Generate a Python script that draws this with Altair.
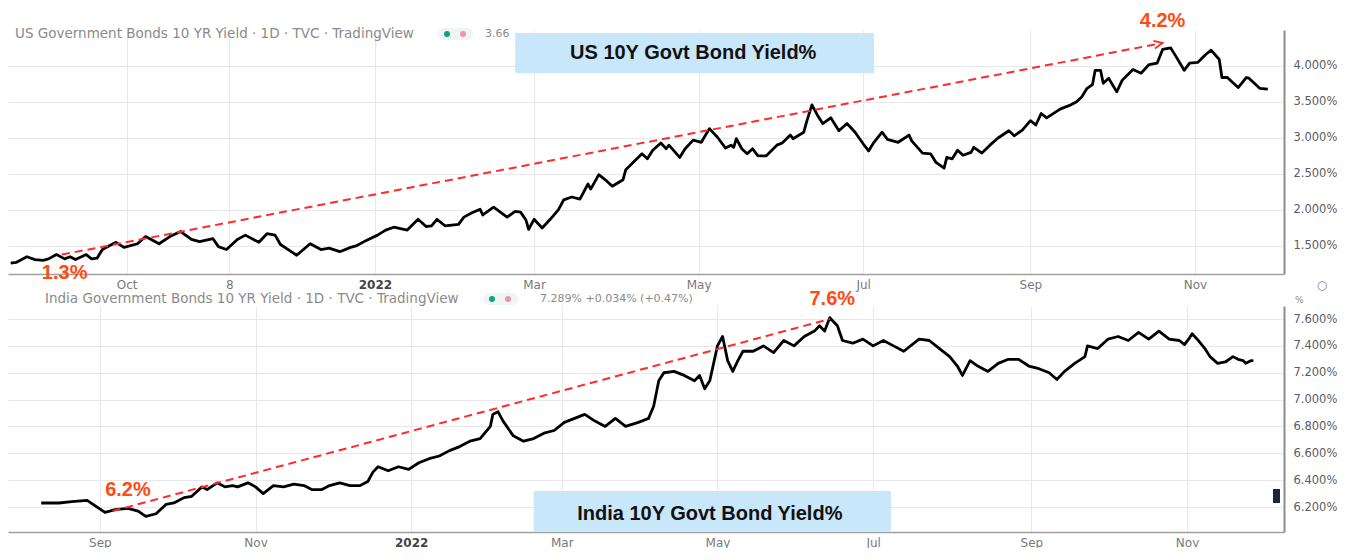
import altair as alt
import pandas as pd

# ---------------- data ----------------
us_dates = [
    "2021-08-19", "2021-08-21", "2021-08-25", "2021-08-28", "2021-08-31", "2021-09-02", "2021-09-05",
    "2021-09-08", "2021-09-10", "2021-09-12", "2021-09-16", "2021-09-18", "2021-09-20", "2021-09-22",
    "2021-09-27", "2021-09-30", "2021-10-05", "2021-10-08", "2021-10-13", "2021-10-17", "2021-10-21",
    "2021-10-25", "2021-10-28", "2021-11-02", "2021-11-04", "2021-11-07", "2021-11-11", "2021-11-14",
    "2021-11-19", "2021-11-22", "2021-11-25", "2021-11-27", "2021-12-01", "2021-12-03", "2021-12-08",
    "2021-12-12", "2021-12-15", "2021-12-19", "2021-12-23", "2021-12-25", "2021-12-28", "2021-12-29",
    "2022-01-02", "2022-01-05", "2022-01-08", "2022-01-13", "2022-01-17", "2022-01-20", "2022-01-22",
    "2022-01-24", "2022-01-27", "2022-02-01", "2022-02-03", "2022-02-06", "2022-02-09", "2022-02-10",
    "2022-02-14", "2022-02-19", "2022-02-22", "2022-02-24", "2022-02-26", "2022-02-27", "2022-03-01",
    "2022-03-04", "2022-03-07", "2022-03-10", "2022-03-12", "2022-03-15", "2022-03-18", "2022-03-21",
    "2022-03-22", "2022-03-25", "2022-03-28", "2022-03-30", "2022-04-03", "2022-04-04", "2022-04-10",
    "2022-04-12", "2022-04-14", "2022-04-17", "2022-04-19", "2022-04-20", "2022-04-24", "2022-04-26",
    "2022-04-29", "2022-05-02", "2022-05-05", "2022-05-08", "2022-05-11", "2022-05-13", "2022-05-14",
    "2022-05-15", "2022-05-17", "2022-05-19", "2022-05-21", "2022-05-23", "2022-05-26", "2022-05-30",
    "2022-06-01", "2022-06-04", "2022-06-05", "2022-06-09", "2022-06-10", "2022-06-12", "2022-06-14",
    "2022-06-16", "2022-06-19", "2022-06-22", "2022-06-25", "2022-06-28", "2022-07-01", "2022-07-03",
    "2022-07-05", "2022-07-08", "2022-07-10", "2022-07-14", "2022-07-18", "2022-07-19", "2022-07-23",
    "2022-07-26", "2022-07-28", "2022-07-31", "2022-08-01", "2022-08-03", "2022-08-05", "2022-08-07",
    "2022-08-10", "2022-08-11", "2022-08-14", "2022-08-17", "2022-08-20", "2022-08-24", "2022-08-26",
    "2022-08-29", "2022-09-01", "2022-09-03", "2022-09-05", "2022-09-07", "2022-09-12", "2022-09-16",
    "2022-09-18", "2022-09-20", "2022-09-22", "2022-09-24", "2022-09-25", "2022-09-27", "2022-09-28",
    "2022-09-30", "2022-10-03", "2022-10-05", "2022-10-09", "2022-10-12", "2022-10-15", "2022-10-18",
    "2022-10-20", "2022-10-23", "2022-10-25", "2022-10-28", "2022-10-30", "2022-11-02", "2022-11-05",
    "2022-11-07", "2022-11-10", "2022-11-11", "2022-11-13", "2022-11-17", "2022-11-20", "2022-11-21",
    "2022-11-25", "2022-11-28",
]
us_yield = [
    1.26, 1.27, 1.35, 1.31, 1.30, 1.32, 1.38,
    1.32, 1.35, 1.31, 1.38, 1.32, 1.33, 1.45,
    1.55, 1.48, 1.53, 1.63, 1.53, 1.63, 1.70,
    1.59, 1.56, 1.60, 1.49, 1.45, 1.59, 1.65,
    1.55, 1.67, 1.65, 1.52, 1.42, 1.37, 1.53,
    1.45, 1.47, 1.42, 1.48, 1.50, 1.56, 1.58,
    1.65, 1.72, 1.76, 1.72, 1.87, 1.77, 1.78,
    1.87, 1.78, 1.80, 1.90, 1.96, 2.01, 1.93,
    2.04, 1.90, 1.98, 1.97, 1.86, 1.73, 1.87,
    1.75, 1.87, 2.00, 2.14, 2.18, 2.15, 2.36,
    2.29, 2.49, 2.40, 2.33, 2.42, 2.56, 2.78,
    2.71, 2.83, 2.93, 2.85, 2.90, 2.73, 2.85,
    2.97, 2.94, 3.13, 3.01, 2.86, 2.90, 2.87,
    2.99, 2.85, 2.78, 2.85, 2.75, 2.75, 2.90,
    2.93, 3.04, 2.99, 3.08, 3.22, 3.46, 3.32,
    3.20, 3.28, 3.10, 3.20, 3.08, 2.92, 2.82,
    2.94, 3.08, 2.98, 2.94, 3.04, 2.96, 2.79,
    2.78, 2.66, 2.58, 2.73, 2.71, 2.83, 2.76,
    2.80, 2.87, 2.79, 2.90, 3.00, 3.10, 3.03,
    3.11, 3.24, 3.18, 3.34, 3.28, 3.40, 3.46,
    3.50, 3.57, 3.69, 3.74, 3.94, 3.94, 3.76,
    3.83, 3.64, 3.80, 3.95, 3.90, 4.02, 4.04,
    4.23, 4.25, 4.13, 3.94, 4.04, 4.05, 4.16,
    4.22, 4.09, 3.84, 3.84, 3.70, 3.84, 3.83,
    3.69, 3.68,
]

in_dates = [
    "2021-08-09", "2021-08-16", "2021-08-21", "2021-08-27", "2021-09-03", "2021-09-07", "2021-09-12",
    "2021-09-16", "2021-09-19", "2021-09-23", "2021-09-27", "2021-09-30", "2021-10-04", "2021-10-07",
    "2021-10-11", "2021-10-13", "2021-10-17", "2021-10-20", "2021-10-23", "2021-10-25", "2021-10-29",
    "2021-11-01", "2021-11-04", "2021-11-08", "2021-11-12", "2021-11-16", "2021-11-20", "2021-11-23",
    "2021-11-27", "2021-11-30", "2021-12-04", "2021-12-08", "2021-12-12", "2021-12-15", "2021-12-17",
    "2021-12-19", "2021-12-23", "2021-12-27", "2021-12-31", "2022-01-04", "2022-01-08", "2022-01-12",
    "2022-01-16", "2022-01-20", "2022-01-24", "2022-01-28", "2022-02-01", "2022-02-02", "2022-02-04",
    "2022-02-06", "2022-02-10", "2022-02-14", "2022-02-18", "2022-02-22", "2022-02-26", "2022-03-02",
    "2022-03-06", "2022-03-10", "2022-03-14", "2022-03-18", "2022-03-22", "2022-03-26", "2022-03-31",
    "2022-04-04", "2022-04-06", "2022-04-08", "2022-04-10", "2022-04-14", "2022-04-18", "2022-04-22",
    "2022-04-24", "2022-04-26", "2022-04-28", "2022-05-01", "2022-05-03", "2022-05-05", "2022-05-07",
    "2022-05-09", "2022-05-11", "2022-05-15", "2022-05-19", "2022-05-23", "2022-05-27", "2022-05-31",
    "2022-06-04", "2022-06-08", "2022-06-10", "2022-06-12", "2022-06-14", "2022-06-17", "2022-06-19",
    "2022-06-23", "2022-06-27", "2022-07-01", "2022-07-05", "2022-07-09", "2022-07-13", "2022-07-19",
    "2022-07-23", "2022-07-27", "2022-07-31", "2022-08-03", "2022-08-05", "2022-08-08", "2022-08-11",
    "2022-08-15", "2022-08-19", "2022-08-23", "2022-08-27", "2022-08-31", "2022-09-04", "2022-09-08",
    "2022-09-11", "2022-09-14", "2022-09-18", "2022-09-22", "2022-09-23", "2022-09-27", "2022-10-01",
    "2022-10-05", "2022-10-09", "2022-10-13", "2022-10-17", "2022-10-21", "2022-10-25", "2022-10-29",
    "2022-10-31", "2022-11-02", "2022-11-03", "2022-11-05", "2022-11-08", "2022-11-10", "2022-11-13",
    "2022-11-16", "2022-11-19", "2022-11-21", "2022-11-23", "2022-11-24", "2022-11-26", "2022-11-27",
]
in_yield = [
    6.23, 6.23, 6.24, 6.25, 6.16, 6.18, 6.19,
    6.17, 6.13, 6.15, 6.22, 6.23, 6.27, 6.28,
    6.35, 6.33, 6.38, 6.35, 6.36, 6.35, 6.38,
    6.35, 6.30, 6.36, 6.35, 6.37, 6.36, 6.33,
    6.33, 6.36, 6.38, 6.36, 6.36, 6.39, 6.46,
    6.50, 6.47, 6.50, 6.48, 6.53, 6.56, 6.58,
    6.62, 6.65, 6.69, 6.71, 6.80, 6.89, 6.91,
    6.84, 6.73, 6.69, 6.71, 6.75, 6.77, 6.83,
    6.86, 6.89, 6.84, 6.80, 6.86, 6.80, 6.83,
    6.86, 6.95, 7.14, 7.20, 7.21, 7.18, 7.14,
    7.18, 7.08, 7.14, 7.40, 7.47, 7.29, 7.21,
    7.29, 7.36, 7.36, 7.40, 7.35, 7.44, 7.40,
    7.47, 7.51, 7.55, 7.51, 7.61, 7.55, 7.44,
    7.42, 7.45, 7.40, 7.44, 7.40, 7.36, 7.45,
    7.44, 7.38, 7.32, 7.25, 7.18, 7.29, 7.25,
    7.21, 7.27, 7.30, 7.30, 7.25, 7.23, 7.20,
    7.15, 7.21, 7.27, 7.32, 7.40, 7.38, 7.45,
    7.47, 7.44, 7.50, 7.45, 7.51, 7.45, 7.44,
    7.41, 7.46, 7.49, 7.45, 7.38, 7.32, 7.27,
    7.28, 7.32, 7.30, 7.29, 7.27, 7.29, 7.29,
]

# trend (dashed) lines
us_trend_dates = ["2021-09-07", "2022-10-20"]
us_trend_vals = [1.38, 4.32]
in_trend_dates = ["2021-09-06", "2022-06-14"]
in_trend_vals = [6.17, 7.60]

# annotation labels
us_note_dates = ["2021-09-08", "2022-10-20"]
us_note_vals = [1.125, 4.625]
us_note_text = ["1.3%", "4.2%"]
in_note_dates = ["2021-09-12", "2022-06-15"]
in_note_vals = [6.327, 7.75]
in_note_text = ["6.2%", "7.6%"]

# title boxes
us_title = "US 10Y Govt Bond Yield%"
us_box = {"d1": "2022-02-22", "d2": "2022-07-05", "v1": 3.90, "v2": 4.46, "dc": "2022-04-29", "vc": 4.18}
in_title = "India 10Y Govt Bond Yield%"
in_box = {"d1": "2022-02-18", "d2": "2022-07-08", "v1": 6.02, "v2": 6.32, "dc": "2022-04-28", "vc": 6.15}

# axes
us_xdomain = ["2021-08-18", "2022-12-04"]
in_xdomain = ["2021-07-27", "2022-12-09"]
us_xticks = ["2021-10-01", "2021-11-08", "2022-01-01", "2022-03-01", "2022-05-01", "2022-07-01", "2022-09-01", "2022-11-01"]
in_xticks = ["2021-09-01", "2021-11-01", "2022-01-01", "2022-03-01", "2022-05-01", "2022-07-01", "2022-09-01", "2022-11-01"]
us_ydomain = [1.11, 4.50]
in_ydomain = [6.014, 7.697]
us_yticks = [1.5, 2.0, 2.5, 3.0, 3.5, 4.0]
in_yticks = [6.2, 6.4, 6.6, 6.8, 7.0, 7.2, 7.4, 7.6]

us_header = "US Government Bonds 10 YR Yield \u00b7 1D \u00b7 TVC \u00b7 TradingView"
us_header_val = "3.66"
in_header = "India Government Bonds 10 YR Yield \u00b7 1D \u00b7 TVC \u00b7 TradingView"
in_header_val = "7.289%  +0.034%  (+0.47%)"

# ---------------- style ----------------
W = 1276
H_TOP = 244
H_BOT = 226
GRID = "#e6e8ee"
RED = "#ff2b2b"
ORANGE = "#ff4a12"
BOLDF = "Liberation Sans, Arial, sans-serif"
SANS = "DejaVu Sans, sans-serif"


def dt(s):
    y, m, d = (int(p) for p in s.split("-"))
    return alt.DateTime(year=y, month=m, date=d, utc=True)


X_LABEL_EXPR = (
    "utcmonth(datum.value) == 0 ? utcFormat(datum.value, '%Y') : "
    "(utcdate(datum.value) != 1 ? utcFormat(datum.value, '%-d') : utcFormat(datum.value, '%b'))"
)


def panel(dates, vals, tdates, tvals, ndates, nvals, ntext, title, box,
          xdomain, xticks, ydomain, yticks, height, header, header_val,
          header_x, header_y, val_x, dot_x, arrow, extra):
    line_df = pd.DataFrame({"date": dates, "value": vals})
    trend_df = pd.DataFrame({"date": tdates, "value": tvals})
    note_df = pd.DataFrame({"date": ndates, "value": nvals, "label": ntext})
    box_df = pd.DataFrame({"date": [box["d1"]], "date2": [box["d2"]],
                           "value": [box["v1"]], "value2": [box["v2"]]})
    title_df = pd.DataFrame({"date": [box["dc"]], "value": [box["vc"]], "label": [title]})

    x_enc = alt.X(
        "date:T",
        scale=alt.Scale(type="utc", domain=[dt(xdomain[0]), dt(xdomain[1])], nice=False),
        axis=alt.Axis(
            values=[dt(s) for s in xticks], tickCount=40, labelExpr=X_LABEL_EXPR, title=None,
            grid=True, gridColor=GRID, gridWidth=1, domainColor="#a0a0a0", domainWidth=1.5,
            ticks=False, labelPadding=5, labelFont=SANS, labelFontSize=12,
            labelColor={"condition": {"test": "utcmonth(datum.value) == 0", "value": "#444444"}, "value": "#7a7a7a"},
            labelFontWeight={"condition": {"test": "utcmonth(datum.value) == 0", "value": "bold"}, "value": "normal"},
            labelFlush=False, labelOverlap=False,
        ),
    )
    y_enc = alt.Y(
        "value:Q",
        scale=alt.Scale(domain=ydomain, nice=False, zero=False),
        axis=alt.Axis(
            orient="right", values=yticks, tickCount=20,
            labelExpr="format(datum.value, '.3f') + '%'",
            title=None, grid=True, gridColor=GRID, gridWidth=1, domainColor="#8c8c8c",
            domainWidth=2, ticks=False, labelPadding=9, labelFont=SANS, labelFontSize=11.5,
            labelColor="#5c5c5c", labelFlush=False, labelOverlap=False,
        ),
    )
    xs = alt.X("date:T")
    ys = alt.Y("value:Q")

    box_layer = alt.Chart(box_df).mark_rect(color="#c9e7fb").encode(
        x=xs, x2=alt.X2("date2"), y=ys, y2=alt.Y2("value2"))
    title_layer = alt.Chart(title_df).mark_text(
        font=BOLDF, fontWeight="bold", fontSize=20, color="#111111", baseline="middle"
    ).encode(x=xs, y=ys, text="label:N")
    trend_layer = alt.Chart(trend_df).mark_line(
        color=RED, strokeWidth=2, strokeDash=[8, 5]).encode(x=xs, y=ys)
    line_layer = alt.Chart(line_df).mark_line(
        color="#000000", strokeWidth=2.8, strokeJoin="round").encode(x=x_enc, y=y_enc)
    note_layer = alt.Chart(note_df).mark_text(
        font=BOLDF, fontWeight="bold", fontSize=20, color=ORANGE, baseline="middle"
    ).encode(x=xs, y=ys, text="label:N")

    hdr_df = pd.DataFrame({"t": [header]})
    hdr_layer = alt.Chart(hdr_df).mark_text(
        align="left", baseline="middle", font=SANS, fontSize=13.5, color="#8a8a8a"
    ).encode(x=alt.value(header_x), y=alt.value(header_y), text="t:N")
    val_df = pd.DataFrame({"t": [header_val]})
    val_layer = alt.Chart(val_df).mark_text(
        align="left", baseline="middle", font=SANS, fontSize=11, color="#8a8a8a"
    ).encode(x=alt.value(val_x), y=alt.value(header_y), text="t:N")
    dot_df = pd.DataFrame({"t": ["a"]})
    pill = alt.Chart(dot_df).mark_rect(color="#eef6f3", cornerRadius=7).encode(
        x=alt.value(dot_x - 9), x2=alt.value(dot_x + 26), y=alt.value(header_y - 6), y2=alt.value(header_y + 6))
    dot1 = alt.Chart(dot_df).mark_circle(color="#11a27f", opacity=1, size=36).encode(
        x=alt.value(dot_x), y=alt.value(header_y))
    dot2 = alt.Chart(dot_df).mark_circle(color="#f58fb0", opacity=1, size=36).encode(
        x=alt.value(dot_x + 16), y=alt.value(header_y))

    layers = [box_layer, line_layer, trend_layer, title_layer, note_layer,
              hdr_layer, pill, dot1, dot2, val_layer]
    if arrow:
        head_df = pd.DataFrame({"date": [tdates[-1]], "value": [tvals[-1]]})
        layers.append(alt.Chart(head_df).mark_point(
            shape="M-1,-0.45L0,0L-1,0.45", size=300, filled=False, color=RED,
            strokeWidth=1.8, angle=349, opacity=1).encode(x=xs, y=ys))
    layers.extend(extra)
    return alt.layer(*layers).properties(width=W, height=height)


top_extra = [
    alt.Chart(pd.DataFrame({"t": ["\u25cb"]})).mark_text(
        font=SANS, fontSize=12, color="#777777").encode(
        x=alt.value(1314), y=alt.value(255), text="t:N"),
]
bot_extra = [
    alt.Chart(pd.DataFrame({"t": ["%"]})).mark_text(
        font=SANS, fontSize=9, color="#888888", align="left").encode(
        x=alt.value(1287), y=alt.value(-6), text="t:N"),
    alt.Chart(pd.DataFrame({"t": ["m"]})).mark_rect(color="#1f2633").encode(
        x=alt.value(1265), x2=alt.value(1272), y=alt.value(183), y2=alt.value(197)),
]

top = panel(us_dates, us_yield, us_trend_dates, us_trend_vals, us_note_dates, us_note_vals,
            us_note_text, us_title, us_box, us_xdomain, us_xticks, us_ydomain, us_yticks,
            H_TOP, us_header, us_header_val, 7, 4, 477, 439, True, top_extra)
bottom = panel(in_dates, in_yield, in_trend_dates, in_trend_vals, in_note_dates, in_note_vals,
               in_note_text, in_title, in_box, in_xdomain, in_xticks, in_ydomain, in_yticks,
               H_BOT, in_header, in_header_val, 37, -7, 532, 484, False, bot_extra)

chart = alt.vconcat(top, bottom, spacing=32, bounds="flush").properties(
    padding={"left": 0, "top": 3, "right": 0, "bottom": 0}, background="white"
).configure_view(strokeOpacity=0)

chart.save("out.html", embed_options={"renderer": "svg", "actions": False})
